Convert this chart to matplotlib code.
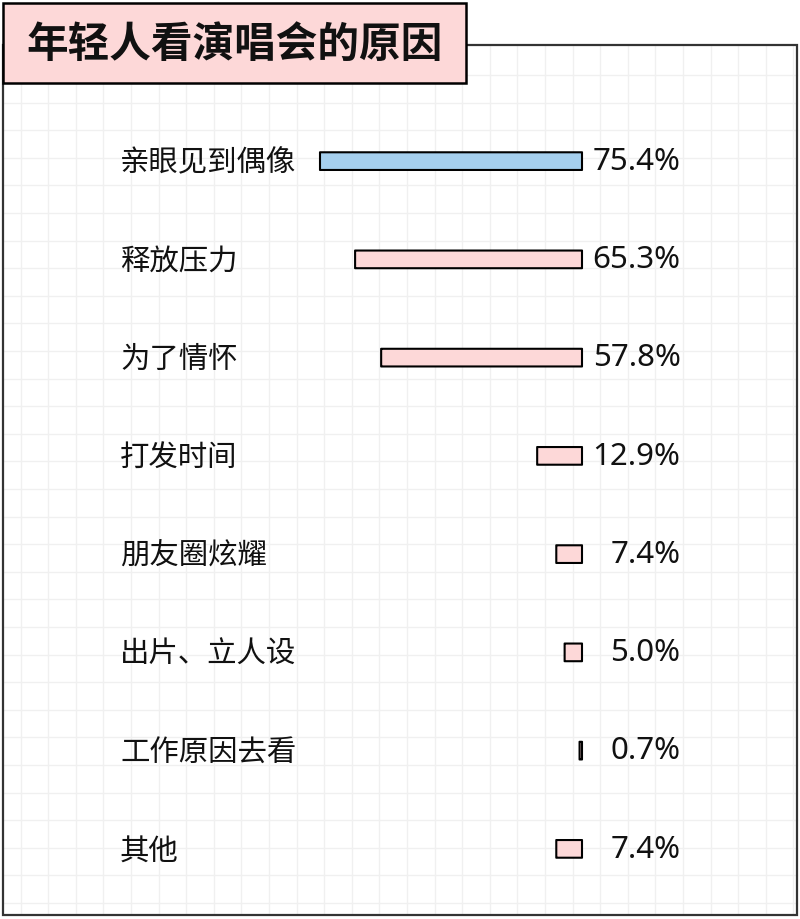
import numpy as np
import matplotlib.pyplot as plt
from matplotlib.patches import Rectangle, FancyBboxPatch

plt.rcParams['font.family'] = ['Noto Sans CJK SC', 'DejaVu Sans']

title = '年轻人看演唱会的原因'
reasons = ['亲眼见到偶像', '释放压力', '为了情怀', '打发时间',
           '朋友圈炫耀', '出片、立人设', '工作原因去看', '其他']
shares = [75.4, 65.3, 57.8, 12.9, 7.4, 5.0, 0.7, 7.4]
bar_colors = ['#A5CFEE'] + ['#FDD8D8'] * 7

W, H = 800, 919
fig = plt.figure(figsize=(W / 100, H / 100), dpi=100)

# background: grid paper, frame and title box (pixel coords)
bg = fig.add_axes([0, 0, 1, 1])
bg.set_xlim(0, W)
bg.set_ylim(H, 0)
bg.axis('off')
step = 27.6
for x in np.arange(20.5, 797, step):
    bg.plot([x, x], [46, 914], color='#F0F0F0', lw=1, zorder=0)
for y in np.arange(47.4 + step, 914, step):
    bg.plot([4, 797], [y, y], color='#F0F0F0', lw=1, zorder=0)
bg.add_patch(Rectangle((3, 45), 794, 870, fill=False, ec='#333333', lw=1.6, zorder=1))
bg.add_patch(Rectangle((3, 3), 463, 80, fc='#FDD8D8', ec='black', lw=1.8, zorder=2))
bg.text(234.5, 45, title, ha='center', va='center', fontsize=30,
        fontweight='bold', color='#111111', zorder=3)

# bar axes: 0 sits at px 582, 75.4% at px 320
px_per = 262 / 75.4
left_px, right_px = 120, 700
top_px, bot_px = 112, 898
ax = fig.add_axes([left_px / W, 1 - bot_px / H, (right_px - left_px) / W, (bot_px - top_px) / H])
ax.patch.set_alpha(0)
ax.set_xlim((582 - left_px) / px_per, -(right_px - 582) / px_per)
ax.set_ylim(len(reasons) - 0.5, -0.5)
ax.axis('off')

for i, (v, c) in enumerate(zip(shares, bar_colors)):
    bw = max(v, 0.4)
    ax.add_patch(FancyBboxPatch((0, i - 0.09), bw, 0.18,
                                boxstyle='round,pad=0,rounding_size=0.03',
                                fc=c, ec='black', lw=1.5, mutation_aspect=1 / 20))

for i, (name, v) in enumerate(zip(reasons, shares)):
    ax.annotate(name, xy=(0, i), xycoords=ax.get_yaxis_transform(),
                xytext=(0, -1.5), textcoords='offset points',
                ha='left', va='center', fontsize=21.2, color='#111111')
    ax.annotate(f'{v:.1f}%', xy=(0, i), xytext=(98.5 * 0.72, -0.5), textcoords='offset points',
                ha='right', va='center', fontsize=22.5, color='#111111',
                family=['Noto Sans', 'DejaVu Sans'])

fig.savefig('out.png', dpi=100)
